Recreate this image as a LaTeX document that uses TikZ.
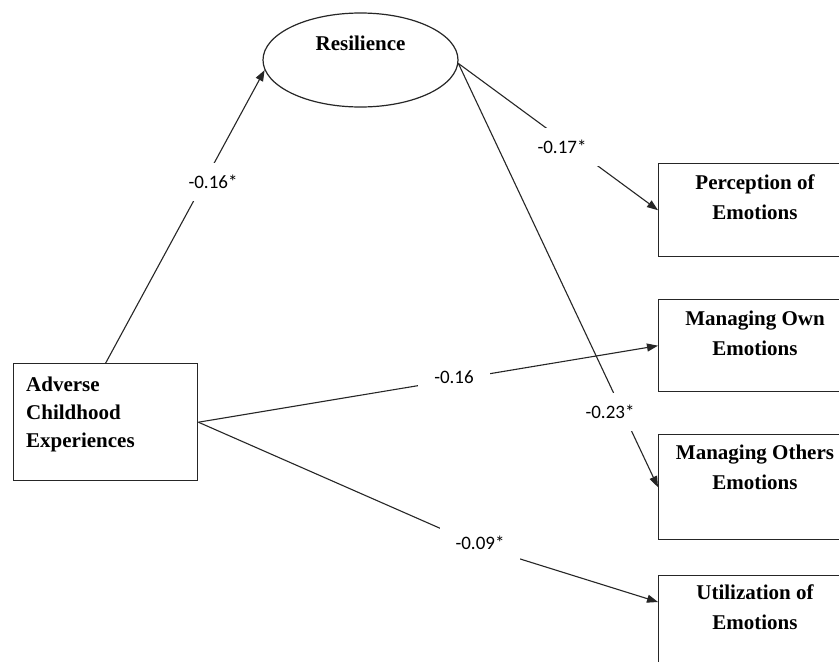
\documentclass[tikz,border=0pt]{standalone}
\usepackage{fontspec}
\setmainfont{Liberation Serif}
\newfontfamily\lblfont{Carlito}
\usetikzlibrary{arrows.meta,shapes.geometric,calc}
\begin{document}
\begin{tikzpicture}[x=1pt,y=-1pt,
  boxnode/.style={draw=black!85, line width=1.4pt, rectangle, inner sep=0pt, anchor=north west},
  boxtext/.style={font=\fontsize{21}{30}\selectfont\bfseries, inner sep=0pt, align=center, anchor=north},
  conn/.style={line width=1.1pt, draw=black!85},
  arr/.style={conn, -{Triangle[length=11pt,width=8pt]}},
  coef/.style={font=\lblfont\fontsize{19}{22}\selectfont, fill=white, inner xsep=16pt, inner ysep=12pt}]
\useasboundingbox (0,0) rectangle (839,662);
\fill[white] (0,0) rectangle (839,662);
\clip (0,0) rectangle (839,662);

% nodes
\node[ellipse, draw=black!85, line width=1.2pt, minimum width=195pt, minimum height=94pt,
      inner sep=0pt, font=\fontsize{21}{25}\selectfont\bfseries, text height=14pt, text depth=34pt]
      (res) at (360.5,60) {Resilience};

\node[boxnode, minimum width=184pt, minimum height=117pt] (ace) at (13,363) {};
\node[boxtext, align=left, anchor=north west, font=\fontsize{21}{28}\selectfont\bfseries]
      (acet) at (26,376.5) {Adverse\\Childhood\\Experiences};

\node[boxnode, minimum width=200pt, minimum height=93pt] (pe) at (658,163) {};
\node[boxtext] (pet) at (755,174.5) {Perception of\\Emotions};

\node[boxnode, minimum width=200pt, minimum height=92pt] (mo) at (658,299) {};
\node[boxtext] (mot) at (755,311) {Managing Own\\Emotions};

\node[boxnode, minimum width=200pt, minimum height=105pt] (mx) at (658,434) {};
\node[boxtext] (mxt) at (755,444.5) {Managing Others\\Emotions};

\node[boxnode, minimum width=200pt, minimum height=100pt] (ut) at (658,575) {};
\node[boxtext] (utt) at (755,584.5) {Utilization of\\Emotions};

% connectors
\coordinate (b4) at (485,548);
\draw[arr] (ace.north) -- (res.186);
\draw[arr] (res.358) -- (pe.west);
\draw[arr] (res.358) -- (mx.west);
\draw[arr] (ace.east) -- (mo.west);
\draw[arr] (ace.east) -- (b4) -- ($(ut.north west)+(0,27)$);

% coefficients
\node[coef] (c1) at (213,182) {-0.16*};
\node[coef] (c2) at (562,147) {-0.17*};
\node[coef] (c3) at (610,412) {-0.23*};
\node[coef] (c4) at (454,377) {-0.16};
\node[coef] (c5) at (480,543) {-0.09*};
\end{tikzpicture}
\end{document}
